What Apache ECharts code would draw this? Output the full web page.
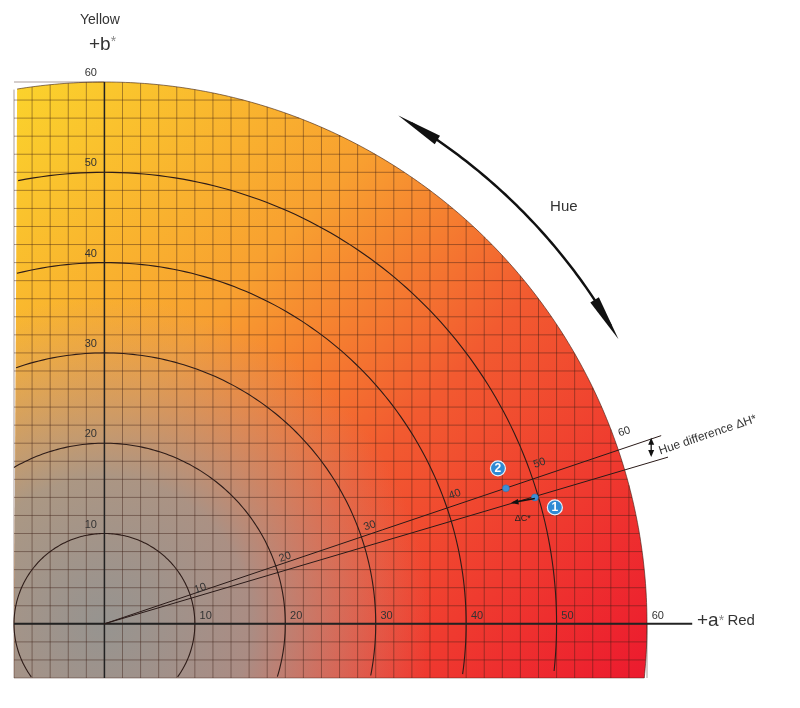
<!DOCTYPE html>
<html>
<head>
<meta charset="utf-8">
<script src="https://cdn.jsdelivr.net/npm/echarts@6/dist/echarts.min.js"></script>
<style>html,body{margin:0;padding:0;background:#fff}#chart{width:800px;height:708px}</style>
</head>
<body>
<div id="chart"></div>
<script>
// 数据：a*/b* 网格、色度圆、色调射线、两个样品点
const gridX = [-10,-8,-6,-4,-2,0,2,4,6,8,10,12,14,16,18,20,22,24,26,28,30,32,34,36,38,40,42,44,46,48,50,52,54,56,58,60];
const gridY = [-6,-4,-2,0,2,4,6,8,10,12,14,16,18,20,22,24,26,28,30,32,34,36,38,40,42,44,46,48,50,52,54,56,58,60];
const chromaRings = [10, 20, 30, 40, 50];
const ringLabels = [10, 20, 30, 40, 50, 60];
const axisLabels = [10, 20, 30, 40, 50, 60];
const hueRays = [18.7, 16.5];          // 射线角度（度）
const sample1 = [47.6, 14.0];
const sample2 = [44.4, 15.0];
const outerR = 60, rayR = 65, hueArc = [29, 60];
const xMin = -10, yMin = -6;

const chart = echarts.init(document.getElementById('chart'));
const rad = d => d * Math.PI / 180;
const inside = (x, y) => x >= xMin - 1e-6 && y >= yMin - 1e-6 && x * x + y * y <= outerR * outerR + 1e-6;

function renderAll(params, api) {
  const c = p => api.coord(p);
  const kids = [];
  const lineStyle = (w, col) => ({ stroke: col, lineWidth: w, fill: null });

  // 背景形状（圆与矩形的交集）
  const a0 = Math.asin(yMin / outerR) * 180 / Math.PI, a1 = Math.acos(xMin / outerR) * 180 / Math.PI;
  const shape = [];
  for (let a = a0; a <= a1 + 0.01; a += 0.5) shape.push(c([outerR * Math.cos(rad(a)), outerR * Math.sin(rad(a))]));
  shape.push(c([xMin, yMin]));
  const tl = c([xMin, outerR]), br = c([outerR, yMin]), o = c([0, 0]);
  kids.push({ type: 'polygon', shape: { points: shape }, style: { fill: new echarts.graphic.LinearGradient(tl[0], tl[1], br[0], br[1], [
    { offset: 0, color: '#fbd32c' }, { offset: 0.35, color: '#f8a030' }, { offset: 0.6, color: '#f25a30' }, { offset: 1, color: '#ec1a2e' }], true) } });
  kids.push({ type: 'polygon', shape: { points: shape }, style: { fill: new echarts.graphic.RadialGradient(o[0], o[1], api.size([36, 0])[0], [
    { offset: 0, color: 'rgba(150,148,144,1)' }, { offset: 0.45, color: 'rgba(158,150,146,0.85)' }, { offset: 1, color: 'rgba(200,150,140,0)' }], true) } });

  // 网格线
  gridX.forEach(x => {
    const top = Math.sqrt(outerR * outerR - x * x);
    kids.push({ type: 'line', shape: { x1: c([x, yMin])[0], y1: c([x, yMin])[1], x2: c([x, top])[0], y2: c([x, top])[1] }, style: lineStyle(0.8, 'rgba(60,30,20,0.55)') });
  });
  gridY.forEach(y => {
    const r = Math.sqrt(outerR * outerR - y * y);
    kids.push({ type: 'line', shape: { x1: c([xMin, y])[0], y1: c([xMin, y])[1], x2: c([r, y])[0], y2: c([r, y])[1] }, style: lineStyle(0.8, 'rgba(60,30,20,0.55)') });
  });
  kids.push({ type: 'polyline', shape: { points: shape.slice(0, -1) }, style: lineStyle(1, 'rgba(60,30,20,0.6)') });

  // 色度圆
  chromaRings.forEach(r => {
    let seg = [];
    for (let a = 0; a <= 360; a += 1) {
      const x = r * Math.cos(rad(a)), y = r * Math.sin(rad(a));
      if (inside(x, y)) seg.push(c([x, y]));
      else { if (seg.length > 1) kids.push({ type: 'polyline', shape: { points: seg }, style: lineStyle(1.1, '#2e1c18') }); seg = []; }
    }
    if (seg.length > 1) kids.push({ type: 'polyline', shape: { points: seg }, style: lineStyle(1.1, '#2e1c18') });
  });

  // 坐标轴
  kids.push({ type: 'line', shape: { x1: c([xMin, 0])[0], y1: o[1], x2: c([65, 0])[0], y2: o[1] }, style: lineStyle(2, '#222') });
  kids.push({ type: 'line', shape: { x1: o[0], y1: c([0, yMin])[1], x2: o[0], y2: c([0, outerR])[1] }, style: lineStyle(1.5, '#222') });

  // 射线
  hueRays.forEach(a => {
    const e = c([rayR * Math.cos(rad(a)), rayR * Math.sin(rad(a))]);
    kids.push({ type: 'line', shape: { x1: o[0], y1: o[1], x2: e[0], y2: e[1] }, style: lineStyle(1, '#2a1a18') });
  });

  const txt = (p, s, opt) => kids.push({ type: 'text', x: p[0], y: p[1], rotation: opt.rot || 0, style: Object.assign({ text: s, fill: '#333', font: (opt.size || 11) + 'px "Liberation Sans", Arial', align: opt.align || 'center', verticalAlign: opt.va || 'middle' }, opt.style || {}) });

  // 射线刻度
  ringLabels.forEach(r => {
    const a = hueRays[0] + 1.6, rr = r + 1.3;
    txt(c([rr * Math.cos(rad(a)), rr * Math.sin(rad(a))]), String(r), { rot: rad(hueRays[0]), size: 11 });
  });
  // 轴刻度
  axisLabels.forEach(v => {
    txt(c([v + 1.2, 0.9]), String(v), { size: 11, align: 'center' });
    txt(c([-1.5, v + 1]), String(v), { size: 11, align: 'center' });
  });

  // 样品点
  [sample2, sample1].forEach((s, i) => {
    const p = c(s);
    kids.push({ type: 'circle', shape: { cx: p[0], cy: p[1], r: 3.5 }, style: { fill: '#3d8fd6', stroke: '#2a6aa8', lineWidth: 0.5 } });
    const b = i === 0 ? [p[0] - 8, p[1] - 20] : [p[0] + 20, p[1] + 10];
    kids.push({ type: 'circle', shape: { cx: b[0], cy: b[1], r: 7.5 }, style: { fill: '#2f8ad4', stroke: '#e8f2fb', lineWidth: 1.2 } });
    txt(b, i === 0 ? '2' : '1', { size: 11, style: { fill: '#fff', fontWeight: 'bold', font: 'bold 11px "Liberation Sans", Arial' } });
  });

  // ΔC* 箭头
  const p1 = c(sample1);
  const q = [p1[0] - 22, p1[1] + 5];
  kids.push({ type: 'line', shape: { x1: p1[0], y1: p1[1] + 1, x2: q[0], y2: q[1] }, style: lineStyle(1.5, '#111') });
  kids.push({ type: 'polygon', shape: { points: [[q[0] - 2, q[1] + 0.5], [q[0] + 5, q[1] - 3.5], [q[0] + 6, q[1] + 2]] }, style: { fill: '#111' } });
  txt([p1[0] - 12, p1[1] + 21], 'ΔC*', { size: 9, style: { fill: '#222' } });

  // 色调差标注
  const e1 = c([rayR * Math.cos(rad(hueRays[0])), rayR * Math.sin(rad(hueRays[0]))]);
  const e2 = c([rayR * Math.cos(rad(hueRays[1])), rayR * Math.sin(rad(hueRays[1]))]);
  const ax = e1[0] - 10, ay1 = e1[1] + 4, ay2 = e2[1] - 2;
  kids.push({ type: 'line', shape: { x1: ax, y1: ay1, x2: ax, y2: ay2 }, style: lineStyle(1.3, '#111') });
  kids.push({ type: 'polygon', shape: { points: [[ax, ay1 - 2], [ax - 3, ay1 + 5], [ax + 3, ay1 + 5]] }, style: { fill: '#111' } });
  kids.push({ type: 'polygon', shape: { points: [[ax, ay2 + 2], [ax - 3, ay2 - 5], [ax + 3, ay2 - 5]] }, style: { fill: '#111' } });
  txt([ax + 8, (ay1 + ay2) / 2 + 4], 'Hue difference ΔH*', { rot: rad(hueRays[0]), size: 12, align: 'left', style: { fill: '#333' } });

  // 色调弧形双箭头
  const arc = [];
  for (let a = hueArc[0] + 1.5; a <= hueArc[1] - 1.5; a += 0.5) arc.push(c([rayR * Math.cos(rad(a)), rayR * Math.sin(rad(a))]));
  kids.push({ type: 'polyline', shape: { points: arc }, style: lineStyle(2.5, '#111') });
  [[hueArc[0], 1], [hueArc[1], -1]].forEach(([a, dir]) => {
    const tip = c([rayR * Math.cos(rad(a)), rayR * Math.sin(rad(a))]);
    const back = c([rayR * Math.cos(rad(a + dir * 4.5)), rayR * Math.sin(rad(a + dir * 4.5))]);
    const dx = tip[0] - back[0], dy = tip[1] - back[1], L = Math.hypot(dx, dy);
    const nx = -dy / L * 5, ny = dx / L * 5;
    kids.push({ type: 'polygon', shape: { points: [tip, [back[0] + nx, back[1] + ny], [back[0] - nx, back[1] - ny]] }, style: { fill: '#111' } });
  });
  txt(c([50.8, 46.2]), 'Hue', { size: 15, style: { fill: '#333' } });

  // 轴标题
  txt([100, 20], 'Yellow', { size: 14 });
  kids.push({ type: 'text', x: 89, y: 45, style: { rich: { a: { font: '19px "Liberation Sans", Arial', fill: '#333' }, s: { font: '14px "Liberation Sans", Arial', fill: '#888', verticalAlign: 'top' } }, text: '{a|+b}{s|*}', align: 'left', verticalAlign: 'middle' } });
  kids.push({ type: 'text', x: 697, y: 621, style: { rich: { a: { font: '19px "Liberation Sans", Arial', fill: '#333' }, s: { font: '14px "Liberation Sans", Arial', fill: '#888' }, r: { font: '15px "Liberation Sans", Arial', fill: '#333' } }, text: '{a|+a}{s|*} {r|Red}', align: 'left', verticalAlign: 'middle' } });

  return { type: 'group', children: kids };
}

chart.setOption({
  animation: false,
  grid: { left: 14, right: 153, top: 82, bottom: 30 },
  xAxis: { type: 'value', min: xMin, max: 60, show: false },
  yAxis: { type: 'value', min: yMin, max: 60, show: false },
  series: [{ type: 'custom', renderItem: renderAll, data: [[0, 0]], clip: false }]
});

window.addEventListener('resize', function() { chart.resize(); });
</script>
</body>
</html>
